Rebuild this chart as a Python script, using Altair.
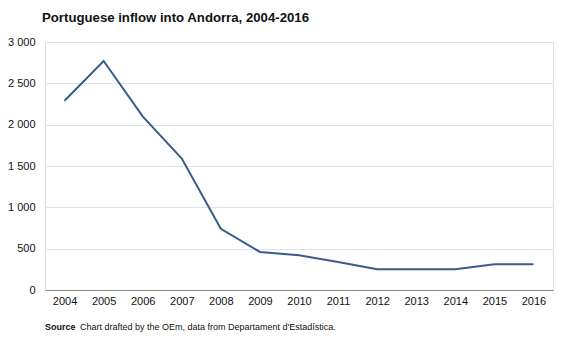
import altair as alt
import pandas as pd

years = ["2004", "2005", "2006", "2007", "2008", "2009", "2010",
         "2011", "2012", "2013", "2014", "2015", "2016"]
inflow = [2290, 2770, 2100, 1590, 740, 460, 420, 340, 250, 250, 250, 310, 310]
source_label = ["Source"]
source_text = ["Chart drafted by the OEm, data from Departament d'Estadística."]

df = pd.DataFrame({"year": years, "inflow": inflow})
note = pd.DataFrame({"label": source_label, "text": source_text})

FONT = "Liberation Sans"

line = alt.Chart(df).mark_line(color="#3a5b8c", strokeWidth=2).encode(
    x=alt.X("year:O", title=None,
            scale=alt.Scale(paddingInner=1, paddingOuter=0.5),
            axis=alt.Axis(labelAngle=0, ticks=False, grid=False,
                          domainColor="#888888", domainWidth=1,
                          labelFont=FONT, labelFontSize=11, labelColor="#111111",
                          labelPadding=5)),
    y=alt.Y("inflow:Q", title=None,
            scale=alt.Scale(domain=[0, 3000]),
            axis=alt.Axis(values=[0, 500, 1000, 1500, 2000, 2500, 3000],
                          labelExpr="replace(format(datum.value, ','), ',', ' ')",
                          ticks=False, domain=False, gridColor="#dde6f0",
                          gridWidth=1, labelFont=FONT, labelFontSize=11,
                          labelColor="#111111", labelPadding=10)),
)

src_bold = alt.Chart(note).mark_text(font=FONT, fontSize=9, fontWeight="bold",
                                     align="left", baseline="middle", color="#111111").encode(
    text="label:N", x=alt.value(0), y=alt.value(285)
)
src_text = alt.Chart(note).mark_text(font=FONT, fontSize=9, align="left", baseline="middle",
                                     color="#111111").encode(
    text="text:N", x=alt.value(35), y=alt.value(285)
)

chart = alt.layer(line, src_bold, src_text).properties(
    width=508, height=248,
    autosize=alt.AutoSizeParams(type="none"),
    padding={"left": 45, "top": 42, "right": 20, "bottom": 61},
    title=alt.TitleParams("Portuguese  inflow into Andorra, 2004-2016", anchor="start",
                          frame="group", font=FONT, fontSize=13.2, fontWeight="bold",
                          color="#111111", dx=-3, offset=11),
).configure_view(stroke=None).configure(background="white")

chart.save("out.html", embed_options={"renderer": "svg", "actions": False})
